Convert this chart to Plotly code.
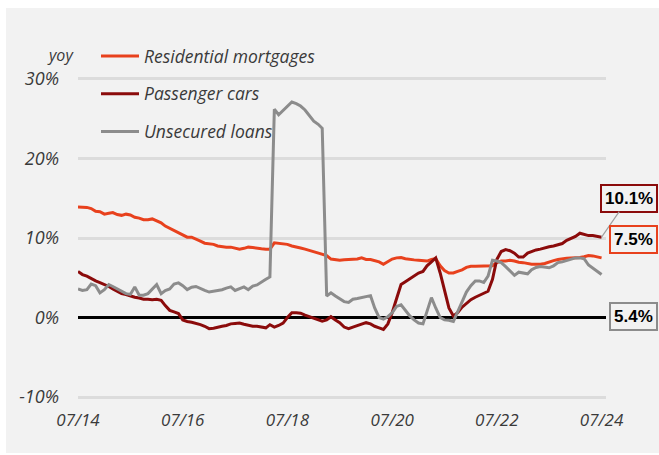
import pandas as pd
import plotly.graph_objects as go

# Monthly year-on-year growth, July 2014 to July 2024 (percent)
months = pd.date_range("2014-07-01", periods=121, freq="MS")

residential_mortgages = [
    13.9, 13.9, 13.85, 13.7, 13.35, 13.3, 13.0, 13.1, 13.2, 12.95,
    12.85, 13.0, 12.9, 12.6, 12.5, 12.3, 12.3, 12.4, 12.1, 11.9,
    11.5, 11.2, 10.9, 10.6, 10.3, 10.1, 10.1, 9.9, 9.6, 9.35,
    9.3, 9.2, 9.0, 8.9, 8.85, 8.85, 8.7, 8.6, 8.7, 8.85,
    8.8, 8.7, 8.65, 8.6, 8.6, 9.4, 9.35, 9.3, 9.2, 9.0,
    8.9, 8.75, 8.6, 8.45, 8.25, 8.1, 8.0, 7.8, 7.35, 7.3,
    7.2, 7.25, 7.3, 7.35, 7.35, 7.5, 7.3, 7.3, 7.2, 7.0,
    6.7, 7.0, 7.35, 7.5, 7.55, 7.4, 7.3, 7.25, 7.2, 7.15,
    7.1, 7.3, 7.4, 6.5, 5.9, 5.6, 5.6, 5.8, 6.0, 6.3,
    6.45, 6.45, 6.45, 6.45, 6.45, 6.5, 6.9, 7.1, 7.1, 7.2,
    7.1, 6.95, 6.9, 6.75, 6.7, 6.7, 6.7, 6.8, 7.0, 7.15,
    7.3, 7.4, 7.45, 7.5, 7.5, 7.55, 7.65, 7.8, 7.75, 7.6,
    7.5,
]

passenger_cars = [
    5.8, 5.4, 5.2, 4.9, 4.6, 4.4, 4.2, 3.9, 3.6, 3.3,
    3.0, 2.9, 2.7, 2.55, 2.45, 2.3, 2.3, 2.25, 2.3, 2.15,
    1.5, 0.9, 0.7, 0.5, -0.3, -0.5, -0.6, -0.7, -0.9, -1.1,
    -1.4, -1.35, -1.2, -1.1, -1.0, -0.8, -0.75, -0.7, -0.85, -1.0,
    -1.1, -1.1, -1.2, -1.3, -0.9, -1.2, -1.0, -0.7, 0.0, 0.6,
    0.6, 0.55, 0.3, 0.1, -0.1, -0.35, -0.45, -0.3, 0.1, -0.3,
    -0.65, -1.2, -1.4, -1.2, -1.0, -0.8, -0.65, -0.8, -1.1, -1.3,
    -1.5, -0.8, 0.6, 2.4, 4.15, 4.5, 4.9, 5.3, 5.6, 5.8,
    6.5, 7.0, 7.5, 5.6, 3.5, 1.2, 0.2, 0.6, 1.3, 1.75,
    2.25, 2.55, 2.8, 3.0, 3.3, 4.8, 7.3, 8.3, 8.55, 8.4,
    8.1, 7.6, 7.6, 8.1, 8.3, 8.5, 8.6, 8.8, 8.9, 9.0,
    9.2, 9.3, 9.7, 9.9, 10.2, 10.6, 10.5, 10.3, 10.3, 10.2,
    10.1,
]

unsecured_loans = [
    3.6, 3.4, 3.5, 4.2, 4.0, 3.1, 3.5, 4.15, 3.9, 3.6,
    3.3, 3.0, 2.9, 3.85, 2.8, 2.8, 3.0, 3.6, 4.15, 3.0,
    3.4, 3.6, 4.2, 4.35, 4.0, 3.5, 3.8, 3.9, 3.6, 3.4,
    3.2, 3.3, 3.45, 3.5, 3.7, 3.85, 3.4, 3.6, 3.85, 3.5,
    3.95, 4.1, 4.4, 4.8, 5.1, 26.2, 25.5, 26.0, 26.6, 27.1,
    26.9, 26.6, 26.1, 25.4, 24.7, 24.3, 23.8, 2.7, 3.1, 2.7,
    2.4, 2.0, 1.9, 2.3, 2.4, 2.5, 2.6, 2.75, 1.2, 0.0,
    -0.2, 0.1, 0.6, 1.4, 1.6, 0.9, 0.2, -0.3, -0.7, -0.8,
    0.8, 2.5, 1.2, 0.0, -0.3, -0.35, -0.5, 0.7, 1.9, 3.2,
    4.0, 4.6, 4.6, 4.4, 5.2, 7.2, 7.1, 6.9, 6.4, 5.8,
    5.3, 5.7, 5.6, 5.5, 6.0, 6.3, 6.4, 6.35, 6.25, 6.5,
    6.9, 7.0, 7.2, 7.3, 7.5, 7.5, 7.4, 6.6, 6.2, 5.8,
    5.4,
]

series_names = ["Residential mortgages", "Passenger cars", "Unsecured loans"]
series_colors = ["#e8411d", "#8b0b0b", "#8c8c8c"]
latest_labels = ["7.5%", "10.1%", "5.4%"]

y_tick_values = [-10, 0, 10, 20, 30]
y_tick_labels = ["-10%", "0%", "10%", "20%", "30%"]
x_tick_dates = ["2014-07-01", "2016-07-01", "2018-07-01", "2020-07-01", "2022-07-01", "2024-07-01"]
x_tick_labels = ["07/14", "07/16", "07/18", "07/20", "07/22", "07/24"]

W, H = 659, 455
M_L, M_R, M_T, M_B = 78, 53, 75, 54
plot_w = W - M_L - M_R
plot_h = H - M_T - M_B

TEXT = "#3a3a3a"
FONT = "Open Sans"

fig = go.Figure()
for i, (name, vals, col) in enumerate(zip(series_names,
                                           [residential_mortgages, passenger_cars, unsecured_loans],
                                           series_colors)):
    fig.add_trace(go.Scatter(
        x=months, y=vals, mode="lines", name=name,
        line=dict(color=col, width=3),
        legendgroup=f"g{i}",
    ))

# Light grey card behind the whole chart
def px_x(p):
    return (p - M_L) / plot_w

def px_y(p):
    return (H - M_B - p) / plot_h

fig.add_shape(type="rect", xref="paper", yref="paper",
              x0=px_x(6), x1=px_x(659), y0=px_y(453), y1=px_y(8),
              fillcolor="#f2f2f2", line=dict(width=0), layer="below")

# Value boxes for the latest observation
last = months[-1]
box_font = dict(family="Liberation Sans", size=17, color="#000000", style="normal")
fig.add_annotation(x=last, y=passenger_cars[-1], xref="x", yref="y",
                   text=f"<b>{latest_labels[1]}</b>", showarrow=True,
                   arrowhead=0, arrowwidth=1.2, arrowcolor="#a0a0a0",
                   ax=27, ay=-39, font=box_font, bgcolor="#f2f2f2",
                   bordercolor=series_colors[1], borderwidth=2, borderpad=3)
fig.add_annotation(x=last, y=residential_mortgages[-1], xref="x", yref="y",
                   text=f"<b>{latest_labels[0]}</b>", showarrow=False,
                   xshift=32, yshift=18, font=box_font, bgcolor="#f2f2f2",
                   bordercolor=series_colors[0], borderwidth=2, borderpad=3)
fig.add_annotation(x=last, y=unsecured_loans[-1], xref="x", yref="y",
                   text=f"<b>{latest_labels[2]}</b>", showarrow=True,
                   arrowhead=0, arrowwidth=1.2, arrowcolor="#a0a0a0",
                   ax=32, ay=42, font=box_font, bgcolor="#f2f2f2",
                   bordercolor=series_colors[2], borderwidth=2, borderpad=3)

fig.add_annotation(x=px_x(45), y=px_y(42), xref="paper", yref="paper",
                   text="yoy", showarrow=False,
                   font=dict(family=FONT, size=16, color=TEXT, style="italic"))

fig.update_layout(
    width=W, height=H,
    margin=dict(l=M_L, r=M_R, t=M_T, b=M_B, pad=0),
    paper_bgcolor="#ffffff",
    plot_bgcolor="rgba(0,0,0,0)",
    font=dict(family=FONT, size=15, color=TEXT),
    showlegend=True,
    legend=dict(x=px_x(96), y=px_y(38), xanchor="left", yanchor="top",
                bgcolor="rgba(0,0,0,0)", traceorder="grouped",
                tracegroupgap=12, itemwidth=38,
                font=dict(family=FONT, size=17.5, color=TEXT, style="italic")),
    xaxis=dict(
        type="date", range=["2014-07-01", "2024-08-01"],
        tickvals=x_tick_dates, ticktext=x_tick_labels,
        showgrid=False, zeroline=False, showline=False,
        ticks="", ticklabelstandoff=7,
        tickfont=dict(family=FONT, size=17, color=TEXT, style="italic"),
    ),
    yaxis=dict(
        range=[-10.5, 30.5],
        tickvals=y_tick_values, ticktext=y_tick_labels,
        showgrid=True, gridcolor="#dcdcdc", gridwidth=3,
        zeroline=True, zerolinecolor="#000000", zerolinewidth=2.5,
        showline=False, ticks="", ticklabelstandoff=18,
        tickfont=dict(family=FONT, size=18, color=TEXT, style="italic"),
    ),
)

fig.write_html("out.html")
